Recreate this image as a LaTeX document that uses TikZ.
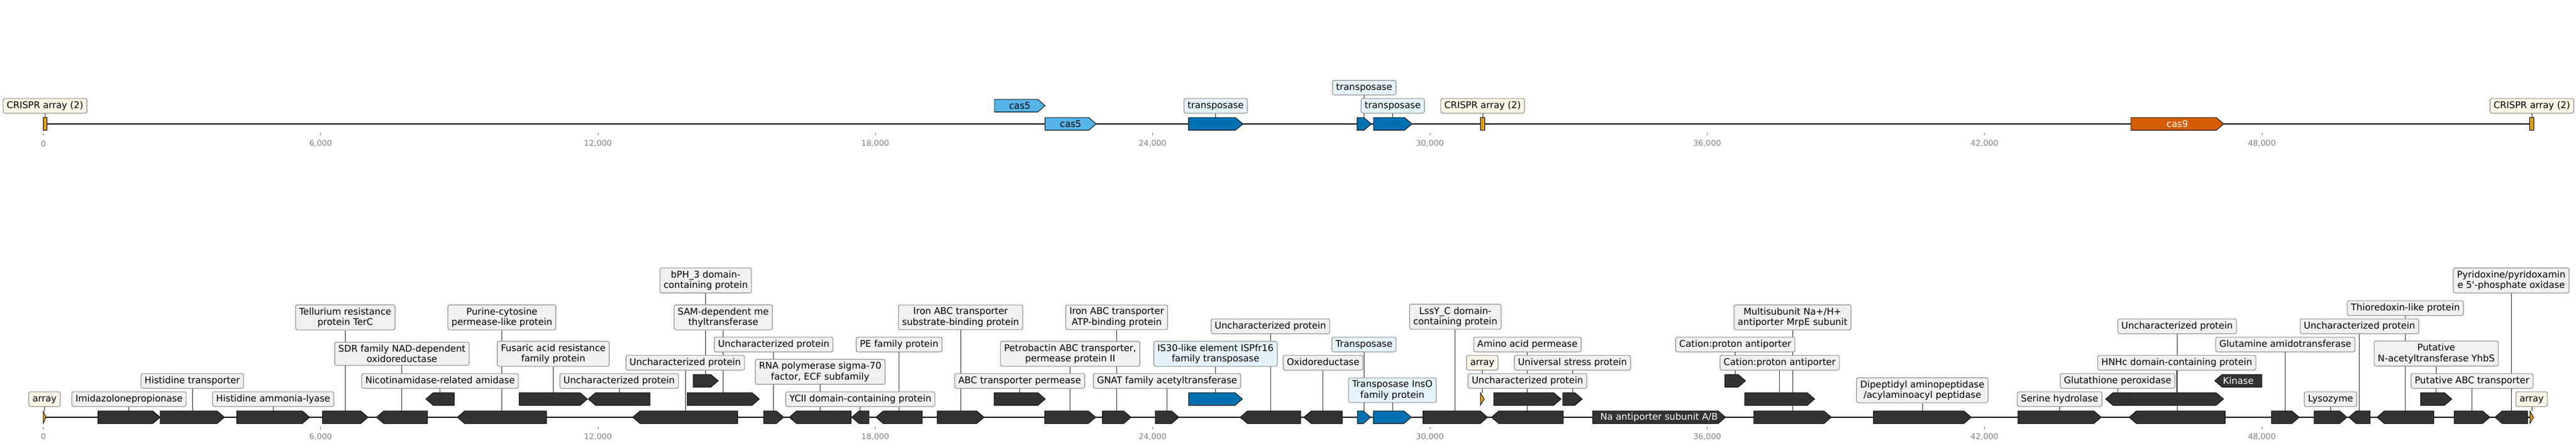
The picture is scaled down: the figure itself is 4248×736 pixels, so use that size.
\documentclass[tikz,border=0pt]{standalone}
\usepackage{fontspec}
\setmainfont{DejaVu Sans}
\usetikzlibrary{backgrounds}

\definecolor{genegrey}{HTML}{333333}
\definecolor{tpblue}{HTML}{0072B2}
\definecolor{casblue}{HTML}{56B4E9}
\definecolor{casorange}{HTML}{D55E00}
\definecolor{crorange}{HTML}{E69F00}
\definecolor{labfill}{HTML}{F1F1F1}
\definecolor{tpfill}{HTML}{E5F4FC}
\definecolor{crfill}{HTML}{FDF5E6}
\definecolor{labedge}{HTML}{8E8E8E}
\definecolor{tickgrey}{HTML}{808080}

% gene arrows: [style]{name}{start}{end}{y}{text}
\newcommand{\genefwd}[6][gene]{%
  \pgfmathsetmacro{\headlen}{min(12,#4-#3)}%
  \draw[#1] (#3,#5-10.3) -- ({#4-\headlen},#5-10.3) -- (#4,#5)
     -- ({#4-\headlen},#5+10.3) -- (#3,#5+10.3) -- cycle;
  \node at ({(#3+#4)/2},#5) (#2) [genetext, minimum width={#4-#3}] {#6};}
\newcommand{\generev}[6][gene]{%
  \pgfmathsetmacro{\headlen}{min(12,#4-#3)}%
  \draw[#1] (#4,#5-10.3) -- ({#3+\headlen},#5-10.3) -- (#3,#5)
     -- ({#3+\headlen},#5+10.3) -- (#4,#5+10.3) -- cycle;
  \node at ({(#3+#4)/2},#5) (#2) [genetext, minimum width={#4-#3}] {#6};}

\begin{document}
\begin{tikzpicture}[x=1pt, y=-1pt, font=\fontsize{15.2}{17.4}\selectfont,
    gene/.style={draw=black, line width=0.9, fill=genegrey},
    tpgene/.style={gene, fill=tpblue},
    cas5gene/.style={gene, fill=casblue},
    cas9gene/.style={gene, fill=casorange},
    crgene/.style={gene, fill=crorange},
    crbox/.style={draw=black, line width=0.9, fill=crorange, inner sep=0, minimum height=20.6},
    genetext/.style={inner sep=0, minimum height=20.6, text=white},
    tagbox/.style={draw=labedge, line width=1.1, rounded corners=3, inner xsep=6, inner ysep=4.5},
    tag/.style={tagbox, fill=labfill, text height=11.6, text depth=3.6},
    tag2/.style={tagbox, fill=labfill, align=center},
    tptag/.style={tag, fill=tpfill},
    tptag2/.style={tag2, fill=tpfill},
    crtag/.style={tag, fill=crfill},
    conn/.style={draw=genegrey, line width=0.8},
    track/.style={draw=black, line width=2.5},
    tickmark/.style={draw=tickgrey, line width=0.8},
    ticklab/.style={text=tickgrey, font=\fontsize{13.1}{15}\selectfont, inner sep=0},
  ]
  \useasboundingbox (0,0) rectangle (4248,736);

  % top track
  \node at (74.2,204) (cr1) [crbox, minimum width=5.5] {};
  \node at (2444.9,204) (cr2) [crbox, minimum width=6.3] {};
  \node at (4175.2,204) (cr3) [crbox, minimum width=7.3] {};
  \genefwd[cas5gene]{cas5a}{1640}{1723.4}{174}{\textcolor{black}{cas5}}
  \genefwd[cas5gene]{cas5b}{1723.4}{1807.6}{204}{\textcolor{black}{cas5}}
  \genefwd[tpgene]{tp1}{1959.8}{2049.5}{204}{}
  \genefwd[tpgene]{tp2}{2237.9}{2261.4}{204}{}
  \genefwd[tpgene]{tp3}{2265}{2328.4}{204}{}
  \genefwd[cas9gene]{cas9}{3514}{3667}{204}{cas9}

  \node at (74.2,174.2) (lcr1) [crtag] {CRISPR array (2)};
  \node at (2004.7,174.2) (ltp1) [tptag] {transposase};
  \node at (2249.7,144.3) (ltp2) [tptag] {transposase};
  \node at (2296.7,174.2) (ltp3) [tptag] {transposase};
  \node at (2444.9,174.2) (lcr2) [crtag] {CRISPR array (2)};
  \node at (4175.2,174.2) (lcr3) [crtag] {CRISPR array (2)};

  % bottom track
  \genefwd[crgene]{arrA}{71.2}{75.8}{687}{}
  \genefwd{g1}{161.6}{264}{687}{}
  \genefwd{g2}{264}{370}{687}{}
  \genefwd{g3}{390.3}{510.6}{687}{}
  \genefwd{g4}{531.7}{607}{687}{}
  \generev{g5}{620.7}{704.8}{687}{}
  \generev{g6}{702.3}{749.1}{657}{}
  \generev{g7}{754.2}{901.1}{687}{}
  \genefwd{g8}{856.1}{968.6}{657}{}
  \generev{g9}{970}{1071.9}{657}{}
  \generev{g10}{1043.4}{1216.5}{687}{}
  \genefwd{g11}{1143}{1184.4}{627}{}
  \genefwd{g12}{1133}{1252.3}{657}{}
  \genefwd{g13}{1259.2}{1292.3}{687}{}
  \generev{g14}{1301.5}{1403.4}{687}{}
  \generev{g15}{1404.6}{1433}{687}{}
  \generev{g16}{1444.5}{1520.8}{687}{}
  \genefwd{g17}{1545.5}{1622.7}{687}{}
  \genefwd{g18}{1639.2}{1723.7}{657}{}
  \genefwd{g19}{1722.8}{1806.8}{687}{}
  \genefwd{g20}{1817.8}{1865.1}{687}{}
  \genefwd{g21}{1905}{1944}{687}{}
  \genefwd[tpgene]{g22}{1960.1}{2048.8}{657}{}
  \generev{g23}{2045.1}{2145}{687}{}
  \generev{g24}{2150.1}{2213.5}{687}{}
  \genefwd[tpgene]{g25}{2238.2}{2260.3}{687}{}
  \genefwd[tpgene]{g26}{2264.9}{2327.3}{687}{}
  \genefwd{g27}{2346.6}{2453.1}{687}{}
  \genefwd[crgene]{arrB}{2441.2}{2447.6}{657}{}
  \generev{g28}{2459.5}{2578}{687}{}
  \genefwd{g29}{2463.2}{2574.3}{657}{}
  \genefwd{g30}{2577}{2609.2}{657}{}
  \genefwd{g31}{2626.2}{2845.5}{687}{Na antiporter subunit A/B}
  \genefwd{g32}{2844.5}{2878.5}{627}{}
  \genefwd{g33}{2877}{2992.4}{657}{}
  \genefwd{g34}{2892}{3020}{687}{}
  \genefwd{g35}{3089.3}{3250.7}{687}{}
  \genefwd{g36}{3327.7}{3465}{687}{}
  \generev{g37}{3472.3}{3511.7}{657}{}
  \genefwd{g38}{3512.7}{3666.7}{657}{}
  \generev{g39}{3511}{3669.3}{687}{}
  \generev{g40}{3652.3}{3730}{627}{Kinase}
  \genefwd{g41}{3745.9}{3791.5}{687}{}
  \genefwd{g42}{3816}{3870.3}{687}{}
  \generev{g43}{3873.2}{3908.5}{687}{}
  \generev{g44}{3919.8}{4013.3}{687}{}
  \genefwd{g45}{3991.8}{4043.2}{657}{}
  \genefwd{g46}{4047.1}{4105.9}{687}{}
  \generev{g47}{4114.2}{4168}{687}{}
  \genefwd[crgene]{arrC}{4172}{4177.8}{687}{}

  \node at (73.5,657.2) (larrA) [crtag] {array};
  \node at (212.8,657.2) (l1) [tag] {Imidazolonepropionase};
  \node at (317,627.2) (l2) [tag] {Histidine transporter};
  \node at (450.5,657.2) (l3) [tag] {Histidine ammonia-lyase};
  \node at (569.4,522.5) (l4) [tag2] {Tellurium resistance\\protein TerC};
  \node at (662.8,582.5) (l5) [tag2] {SDR family NAD-dependent\\oxidoreductase};
  \node at (725.7,627.2) (l6) [tag] {Nicotinamidase-related amidase};
  \node at (827.7,522.5) (l7) [tag2] {Purine-cytosine\\permease-like protein};
  \node at (912.4,582.5) (l8) [tag2] {Fusaric acid resistance\\family protein};
  \node at (1021,627.2) (l9) [tag] {Uncharacterized protein};
  \node at (1130,597.2) (l10) [tag] {Uncharacterized protein};
  \node at (1163.7,461.7) (l11) [tag2] {bPH\_3 domain-\\containing protein};
  \node at (1192.7,522.5) (l12) [tag2] {SAM-dependent me\\thyltransferase};
  \node at (1275.8,567.2) (l13) [tag] {Uncharacterized protein};
  \node at (1352.5,612.2) (l14) [tag2] {RNA polymerase sigma-70\\factor, ECF subfamily};
  \node at (1418.8,657.2) (l15) [tag] {YCII domain-containing protein};
  \node at (1482.7,567.2) (l16) [tag] {PE family protein};
  \node at (1584.1,522.5) (l17) [tag2] {Iron ABC transporter\\substrate-binding protein};
  \node at (1681.5,627.2) (l18) [tag] {ABC transporter permease};
  \node at (1764.8,582.5) (l19) [tag2] {Petrobactin ABC transporter,\\permease protein II};
  \node at (1841.5,522.5) (l20) [tag2] {Iron ABC transporter\\ATP-binding protein};
  \node at (1924.5,627.2) (l21) [tag] {GNAT family acetyltransferase};
  \node at (2004.5,582.5) (l22) [tptag2] {IS30-like element ISPfr16\\family transposase};
  \node at (2095,537.2) (l23) [tag] {Uncharacterized protein};
  \node at (2181.8,597.2) (l24) [tag] {Oxidoreductase};
  \node at (2249.3,567.2) (l25) [tptag] {Transposase};
  \node at (2296.1,642.5) (l26) [tptag2] {Transposase InsO\\family protein};
  \node at (2399.9,521.5) (l27) [tag2] {LssY\_C domain-\\containing protein};
  \node at (2444.4,597.2) (larrB) [crtag] {array};
  \node at (2518.8,627.2) (l28) [tag] {Uncharacterized protein};
  \node at (2518.8,567.2) (l29) [tag] {Amino acid permease};
  \node at (2593.1,597.2) (l30) [tag] {Universal stress protein};
  \node at (2861.5,567.2) (l32) [tag] {Cation:proton antiporter};
  \node at (2934.7,597.2) (l33) [tag] {Cation:proton antiporter};
  \node at (2956,522.5) (l34) [tag2] {Multisubunit Na+/H+\\antiporter MrpE subunit};
  \node at (3170,642.5) (l35) [tag2] {Dipeptidyl aminopeptidase\\/acylaminoacyl peptidase};
  \node at (3396.4,657.2) (l36) [tag] {Serine hydrolase};
  \node at (3492,627.2) (l37) [tag] {Glutathione peroxidase};
  \node at (3589.7,597.2) (l38) [tag] {HNHc domain-containing protein};
  \node at (3590.2,537.2) (l39) [tag] {Uncharacterized protein};
  \node at (3768.7,567.2) (l41) [tag] {Glutamine amidotransferase};
  \node at (3843.2,657.2) (l42) [tag] {Lysozyme};
  \node at (3890.9,537.2) (l43) [tag] {Uncharacterized protein};
  \node at (3966.6,507.2) (l44) [tag] {Thioredoxin-like protein};
  \node at (4017.5,582.2) (l45) [tag2] {Putative\\N-acetyltransferase YhbS};
  \node at (4076.5,627.2) (l46) [tag] {Putative ABC transporter};
  \node at (4141.1,461.8) (l47) [tag2] {Pyridoxine/pyridoxamin\\e 5\textquotesingle-phosphate oxidase};
  \node at (4174.9,657.2) (larrC) [crtag] {array};

  % axes, ticks and connectors
  \begin{scope}[on background layer]
    \draw[track] (cr1.west) -- (cr3.east);
    \draw[track] (arrA.west) -- (arrC.east);
    \foreach \k/\t in {0/0,1/{6,000},2/{12,000},3/{18,000},4/{24,000},5/{30,000},6/{36,000},7/{42,000},8/{48,000}}{
      \draw[tickmark] (71.5+457.3*\k,219) -- (71.5+457.3*\k,223);
      \node at (71.5+457.3*\k,236.3) (tt\k) [ticklab] {\t};
      \draw[tickmark] (71.5+457.3*\k,702.5) -- (71.5+457.3*\k,706.5);
      \node at (71.5+457.3*\k,719) (bt\k) [ticklab] {\t};
    }
    \foreach \g/\l in {cr1/lcr1,cr2/lcr2,cr3/lcr3,tp1/ltp1,tp2/ltp2,tp3/ltp3,
        arrA/larrA,arrB/larrB,arrC/larrC,
        g1/l1,g2/l2,g3/l3,g4/l4,g5/l5,g6/l6,g7/l7,g8/l8,g9/l9,g10/l10,
        g11/l11,g12/l12,g13/l13,g14/l14,g15/l15,g16/l16,g17/l17,g18/l18,g19/l19,g20/l20,
        g21/l21,g22/l22,g23/l23,g24/l24,g25/l25,g26/l26,g27/l27,g28/l28,g29/l29,g30/l30,
        g32/l32,g33/l33,g34/l34,g35/l35,g36/l36,g37/l37,g38/l38,g39/l39,
        g41/l41,g42/l42,g43/l43,g44/l44,g45/l45,g46/l46,g47/l47}
      \draw[conn] (\g.north) -- (\g.north |- \l.south);
  \end{scope}
\end{tikzpicture}
\end{document}
